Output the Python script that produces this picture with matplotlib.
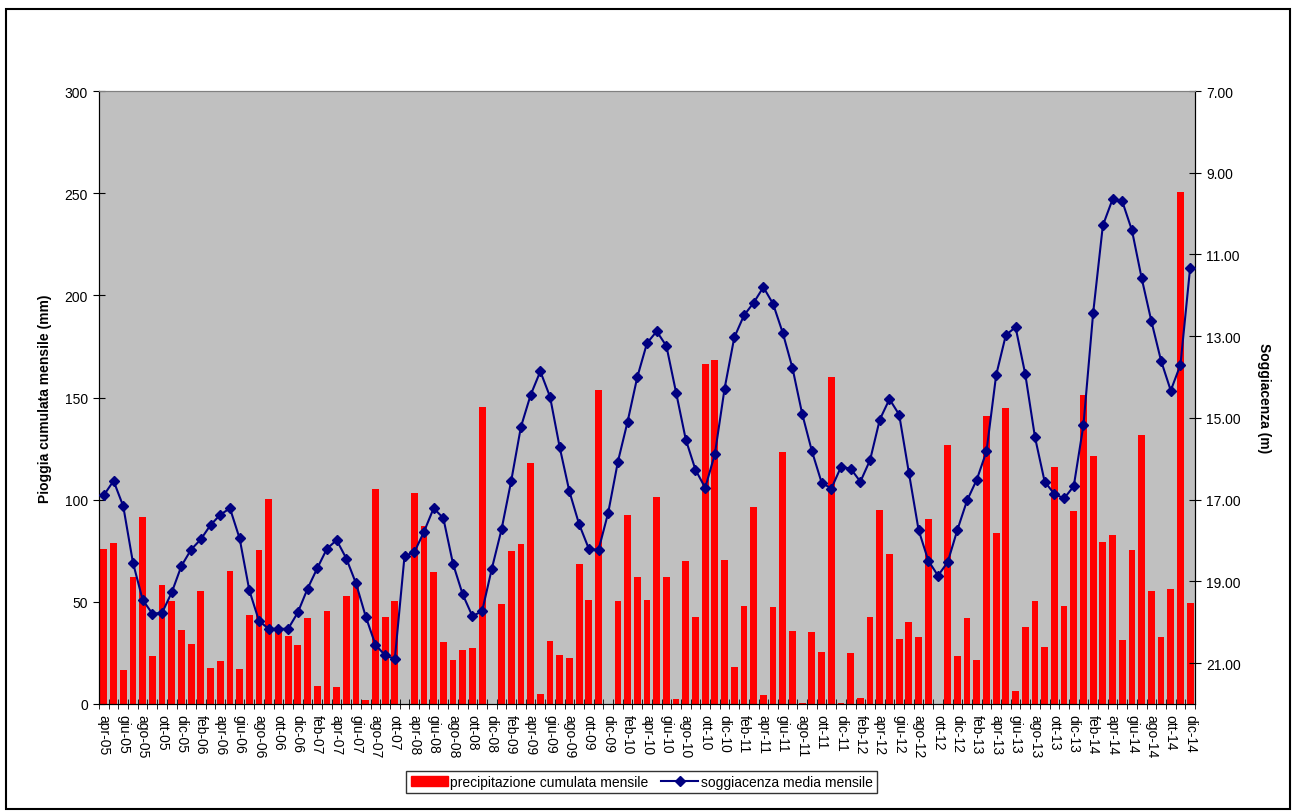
import matplotlib.pyplot as plt
from matplotlib.patches import Patch, Rectangle
from matplotlib.lines import Line2D
import numpy as np

plt.rcParams['font.family'] = ['Liberation Sans', 'DejaVu Sans']

# month labels (nov-07 .. mar-08 missing except one slot)
mesi = ["gen", "feb", "mar", "apr", "mag", "giu", "lug", "ago", "set", "ott", "nov", "dic"]
labels = [f"{m}-05" for m in mesi[3:]]
labels += [f"{m}-06" for m in mesi]
labels += [f"{m}-07" for m in mesi[:10]]
labels += ["mar-08"]
labels += [f"{m}-08" for m in mesi[3:]]
for yy in range(9, 15):
    labels += [f"{m}-{yy:02d}" for m in mesi]

# precipitazione cumulata mensile (mm)
pioggia = [
    76, 79, 16.5, 62, 91.5, 23.6, 58, 50.6, 36.4, 29.3, 55.2, 17.8,
    21.1, 65.3, 16.9, 43.6, 75.2, 100.4, 35.7, 33.3, 28.9, 42.2, 8.9, 45.3,
    8.1, 52.7, 58.7, 1.9, 105, 42.4, 50.4, 0,
    103.3, 87, 64.7, 30.2, 21.5, 26.6, 27.3, 145.5, 0,
    49, 75, 78.5, 117.8, 5, 30.8, 23.8, 22.3, 68.6, 50.8, 153.7, 0,
    50.6, 92.4, 62, 51, 101.4, 62.2, 2.5, 69.8, 42.4, 166.5, 168.4, 70.7,
    18.2, 47.9, 96.3, 4.3, 47.3, 123.1, 35.7, 0.6, 35.1, 25.6, 159.9, 0.6,
    24.8, 3.1, 42.4, 95, 73.4, 32, 39.9, 32.9, 90.7, 0, 126.9, 23.3,
    42.2, 21.3, 140.9, 83.7, 145, 6.2, 37.8, 50.2, 27.7, 115.9, 47.9, 94.4,
    151.4, 121.5, 79.5, 82.9, 31.4, 75.6, 131.6, 55.2, 32.6, 56.2, 250.6, 49.6,
]

# soggiacenza media mensile (m)
soggiacenza = [
    16.89, 16.54, 17.16, 18.54, 19.45, 19.79, 19.77, 19.27, 18.62, 18.22, 17.97, 17.62,
    17.37, 17.21, 17.95, 19.22, 19.97, 20.16, 20.16, 20.16, 19.76, 19.18, 18.68, 18.20,
    17.99, 18.44, 19.05, 19.86, 20.55, 20.81, 20.90, 18.38,
    18.29, 17.79, 17.21, 17.45, 18.57, 19.32, 19.85, 19.73, 18.69,
    17.73, 16.54, 15.22, 14.44, 13.86, 14.48, 15.72, 16.80, 17.60, 18.20, 18.23, 17.32,
    16.07, 15.09, 14.00, 13.17, 12.88, 13.24, 14.38, 15.53, 16.27, 16.71, 15.88, 14.28,
    13.03, 12.49, 12.18, 11.80, 12.21, 12.92, 13.78, 14.90, 15.81, 16.58, 16.73, 16.20,
    16.24, 16.56, 16.03, 15.04, 14.54, 14.92, 16.34, 17.74, 18.49, 18.86, 18.53, 17.74,
    17.02, 16.51, 15.82, 13.95, 12.97, 12.78, 13.93, 15.47, 16.56, 16.86, 16.97, 16.67,
    15.17, 12.43, 10.29, 9.65, 9.70, 10.41, 11.58, 12.63, 13.60, 14.33, 13.70, 11.32,
]

x = np.arange(len(labels))

fig = plt.figure(figsize=(12.92, 8.12), dpi=100)
ax = fig.add_axes([99 / 1292, 1 - 705 / 812, (1195 - 99) / 1292, (705 - 92) / 812])
ax.set_facecolor('#C0C0C0')

ax.bar(x, pioggia, width=0.7, color='#FF0000', zorder=2)
ax.set_xlim(-0.5, len(labels) - 0.5)
ax.set_ylim(0, 300)
ax.set_yticks(np.arange(0, 301, 50))
ax.tick_params(axis='y', direction='inout', length=8, labelsize=10, pad=4)

# labels every other month, tick marks on every boundary
ax.set_xticks(x[::2])
ax.set_xticklabels(labels[::2], rotation=270, fontsize=10)
ax.tick_params(axis='x', which='major', length=0, pad=7)
ax.set_xticks(np.arange(-0.5, len(labels), 1), minor=True)
ax.tick_params(axis='x', which='minor', direction='inout', length=7)

ax.set_ylabel("Pioggia cumulata mensile (mm)", fontsize=10, fontweight='bold', labelpad=9)
ax.spines['top'].set_color('#808080')

ax2 = ax.twinx()
ax2.plot(x, soggiacenza, color='#000080', lw=1.5, marker='D', markersize=5.5, zorder=3)
ax2.set_ylim(22, 7)
ax2.set_yticks(np.arange(7, 22, 2))
ax2.set_yticklabels([f"{v:.2f}" for v in np.arange(7, 22, 2)])
ax2.tick_params(axis='y', direction='inout', length=8, labelsize=10, pad=4)
ax2.set_ylabel("Soggiacenza (m)", fontsize=10, fontweight='bold', rotation=270, labelpad=22)
ax2.spines['top'].set_color('#808080')

handles = [Patch(color='#FF0000', label='precipitazione cumulata mensile'),
           Line2D([], [], color='#000080', lw=1.5, marker='D', markersize=5.5,
                  label='soggiacenza media mensile')]
leg = fig.legend(handles=handles, loc='center', bbox_to_anchor=(641.5 / 1292, 1 - 783 / 812),
                 ncol=2, fontsize=10, frameon=True, fancybox=False, edgecolor='black',
                 handlelength=2.7, handletextpad=0.15, columnspacing=0.9, borderpad=0.3)
leg.get_frame().set_linewidth(1.0)

# outer chart border
fig.patches.append(Rectangle((6 / 1292, 2 / 812), 1284 / 1292, 808 / 812 - 8 / 812,
                             transform=fig.transFigure, fill=False, edgecolor='black', lw=1.5))

plt.savefig("out.png", dpi=100)
